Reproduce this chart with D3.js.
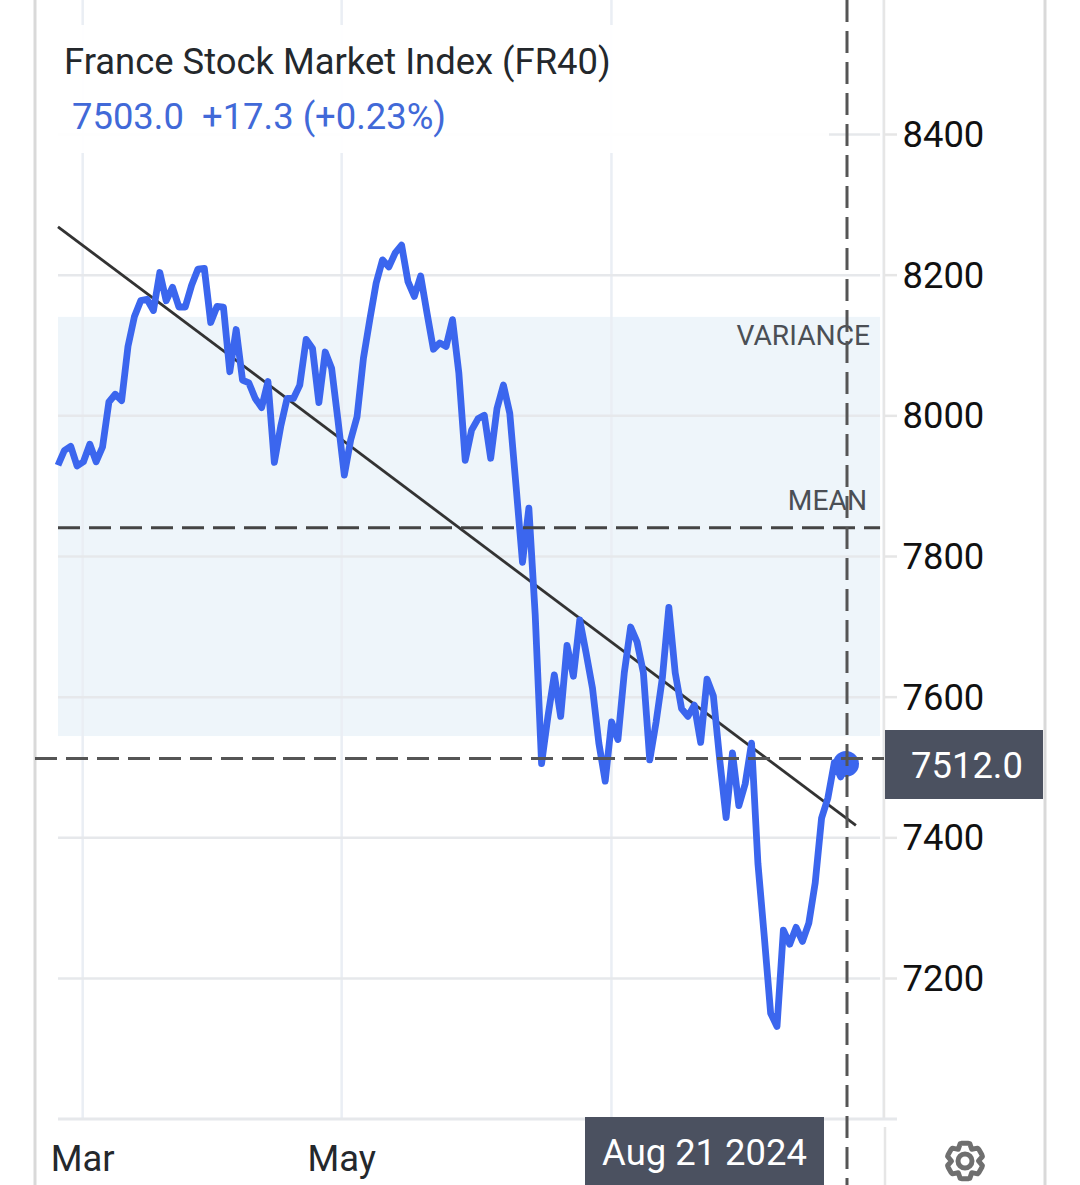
<!doctype html>
<html>
<head>
<meta charset="UTF-8">
<script src="https://d3js.org/d3.v7.min.js"></script>
<style>
  body { margin: 0; background: #fff; }
  svg { display: block; }
  text { font-family: Roboto, sans-serif; }
  .axis .domain { display: none; }
</style>
</head>
<body>
<script>
// closing values by trading day
var closes = [7929,7950,7956,7928,7934,7959,7934,7955,8019,8030,8021,8098,8140,8163,8165,8149,8203,8163,8182,8154,
  8154,8185,8208,8209,8132,8155,8154,8062,8122,8050,8046,8024,8011,8048,7933,7984,8024,8024,8043,8108,
  8095,8018,8090,8067,7993,7915,7965,7998,8081,8136,8188,8221,8211,8231,8242,8190,8169,8198,8145,8094,
  8103,8098,8136,8060,7936,7979,7995,8000,7939,8010,8043,8003,7898,7791,7868,7716,7505,7572,7631,7572,
  7673,7629,7709,7662,7612,7534,7480,7564,7539,7634,7699,7678,7634,7510,7564,7628,7727,7634,7583,7572,
  7588,7535,7625,7601,7510,7428,7520,7445,7476,7534,7363,7259,7150,7131,7268,7248,7272,7252,7278,7335,
  7427,7456,7506,7486,7503]

var yTicks = [7200,7400,7600,7800,8000,8200,8400]
var monthTicks = [3.8,44.5,86.9,129.7]        // grid positions in trading days: Mar, May, Jul, Sep
var monthLabels = [3.8,44.5]
var monthNames = ['Mar','May']

var title = 'France Stock Market Index (FR40)'
var lastPrice = '7503.0'
var lastChange = '+17.3 (+0.23%)'
var crossValue = 7512
var crossDay = 124
var crossDate = 'Aug 21 2024'
var meanValue = 7840
var varianceBand = [7544,8140]
var trendDays = [0,125.4]
var trendValues = [8268,7417]
var lastDay = 129.2

var blue = '#3b66ee', dark = '#4b5160', dash = '22 9'
var fontSize = '36.4px'

var width = 1080, height = 1185

var svg = d3.select('body').append('svg')
  .attr('width', width)
  .attr('height', height)

var x = d3.scaleLinear().domain([0,124]).range([58,847])
var y = d3.scaleLinear().domain([7200,8400]).range([978,134])

var plotLeft = x(0), plotRight = x(lastDay), axisX = 884, axisY = 1118

// outer frame
svg.selectAll('.frame')
  .data([35,1045])
  .enter().append('line')
  .attr('x1', d => d).attr('x2', d => d)
  .attr('y1', 0).attr('y2', height)
  .attr('stroke', '#d9d9d9').attr('stroke-width', 3)

// variance band
svg.append('rect')
  .attr('x', plotLeft)
  .attr('width', plotRight - plotLeft)
  .attr('y', y(varianceBand[1]))
  .attr('height', y(varianceBand[0]) - y(varianceBand[1]))
  .attr('fill', '#eef5fa')

// vertical grid
var xGrid = svg.append('g').attr('class', 'axis')
  .attr('transform', 'translate(0,' + axisY + ')')
  .call(d3.axisBottom(x).tickValues(monthTicks).tickSize(-axisY).tickFormat(''))
xGrid.selectAll('line').attr('stroke', '#eaeef4').attr('stroke-width', 2.5)

// horizontal grid
var yGrid = svg.append('g').attr('class', 'axis')
  .attr('transform', 'translate(' + plotRight + ',0)')
  .call(d3.axisRight(y).tickValues(yTicks).tickSize(plotLeft - plotRight).tickFormat(''))
yGrid.selectAll('line').attr('stroke', '#e6e8eb').attr('stroke-width', 2.5)

// axis lines
svg.append('line')
  .attr('x1', axisX).attr('x2', axisX).attr('y1', 0).attr('y2', axisY)
  .attr('stroke', '#e6e6e6').attr('stroke-width', 2.5)
svg.append('line')
  .attr('x1', axisX + 1).attr('x2', axisX + 1).attr('y1', 1127).attr('y2', height)
  .attr('stroke', '#e6e6e6').attr('stroke-width', 2.5)
svg.append('line')
  .attr('x1', plotLeft).attr('x2', 897).attr('y1', axisY + 1).attr('y2', axisY + 1)
  .attr('stroke', '#e6e8eb').attr('stroke-width', 3)

// white panel behind the title
svg.append('rect')
  .attr('x', 45).attr('y', 25).attr('width', 784).attr('height', 128)
  .attr('fill', '#fff').attr('fill-opacity', 0.93)

// y axis labels
var yAxis = svg.append('g').attr('class', 'axis')
  .attr('transform', 'translate(' + axisX + ',0)')
  .call(d3.axisRight(y).tickValues(yTicks).tickSize(13).tickPadding(6).tickFormat(d3.format('d')))
yAxis.selectAll('line').attr('stroke', '#e6e6e6').attr('stroke-width', 2.5)
yAxis.selectAll('text').attr('fill', '#111').attr('dx', -0.5).attr('y', 0.7).style('font-size', fontSize)

// x axis labels
var xAxis = svg.append('g').attr('class', 'axis')
  .attr('transform', 'translate(0,' + axisY + ')')
  .call(d3.axisBottom(x).tickValues(monthLabels).tickSize(0).tickPadding(27)
    .tickFormat((d, i) => monthNames[i]))
xAxis.selectAll('text').attr('fill', '#24282c').style('font-size', fontSize)

// trend line
svg.append('line')
  .attr('x1', x(trendDays[0])).attr('y1', y(trendValues[0]))
  .attr('x2', x(trendDays[1])).attr('y2', y(trendValues[1]))
  .attr('stroke', '#333').attr('stroke-width', 2.8)

// price line
var priceLine = d3.line()
  .x((d, i) => x(i))
  .y(d => y(d))
svg.append('path')
  .datum(closes)
  .attr('d', priceLine)
  .attr('fill', 'none')
  .attr('stroke', blue)
  .attr('stroke-width', 6.8)
  .attr('stroke-linejoin', 'round')

svg.append('circle')
  .attr('cx', x(crossDay) - 1)
  .attr('cy', y(closes[crossDay]) - 1)
  .attr('r', 13)
  .attr('fill', blue)

// mean line
svg.append('line')
  .attr('x1', plotLeft).attr('x2', plotRight)
  .attr('y1', y(meanValue)).attr('y2', y(meanValue))
  .attr('stroke', '#444').attr('stroke-width', 3)
  .attr('stroke-dasharray', dash)

svg.append('text')
  .text('VARIANCE')
  .attr('x', 870).attr('y', y(varianceBand[1]) + 28)
  .attr('text-anchor', 'end')
  .attr('fill', '#4b4f55')
  .style('font-size', '28.2px')
svg.append('text')
  .text('MEAN')
  .attr('x', 867).attr('y', y(meanValue) - 18)
  .attr('text-anchor', 'end')
  .attr('fill', '#4b4f55')
  .style('font-size', '28.2px')

// crosshair
svg.append('line')
  .attr('x1', 35).attr('x2', axisX)
  .attr('y1', y(crossValue)).attr('y2', y(crossValue))
  .attr('stroke', '#555').attr('stroke-width', 3)
  .attr('stroke-dasharray', dash)
svg.append('line')
  .attr('x1', x(crossDay)).attr('x2', x(crossDay))
  .attr('y1', 0).attr('y2', height)
  .attr('stroke', '#555').attr('stroke-width', 3)
  .attr('stroke-dasharray', dash)

// crosshair value label
svg.append('rect')
  .attr('x', 885).attr('y', 730).attr('width', 158).attr('height', 69)
  .attr('fill', dark)
svg.append('text')
  .text(d3.format('.1f')(crossValue))
  .attr('x', 967).attr('y', 778)
  .attr('text-anchor', 'middle')
  .attr('fill', '#fff')
  .style('font-size', fontSize)

// crosshair date label
svg.append('rect')
  .attr('x', 585).attr('y', 1117).attr('width', 239).attr('height', 68)
  .attr('fill', dark)
svg.append('text')
  .text(crossDate)
  .attr('x', 704.5).attr('y', 1165)
  .attr('text-anchor', 'middle')
  .attr('fill', '#fff')
  .style('font-size', fontSize)

// title
svg.append('text')
  .text(title)
  .attr('x', 64).attr('y', 74)
  .attr('fill', '#24282c')
  .style('font-size', fontSize)
svg.append('text')
  .text(lastPrice)
  .attr('x', 72).attr('y', 129)
  .attr('fill', '#4169d8')
  .style('font-size', fontSize)
svg.append('text')
  .text(lastChange)
  .attr('x', 202).attr('y', 129)
  .attr('fill', '#4169d8')
  .style('font-size', fontSize)

// settings gear
var teeth = 6, gearPts = []
for (var t = 0; t < teeth; t++) {
  var a = t * 2 * Math.PI / teeth
  gearPts.push([a - 0.27, 18], [a - 0.19, 18], [a - 0.15, 18])
  gearPts.push([a + 0.15, 18], [a + 0.27, 18], [a + 0.52, 13.5])
}
var gear = svg.append('g').attr('transform', 'translate(965,1161)')
gear.append('path')
  .attr('d', d3.lineRadial().curve(d3.curveLinearClosed)(gearPts))
  .attr('fill', 'none').attr('stroke', '#6f6f6f').attr('stroke-width', 5)
  .attr('stroke-linejoin', 'round')
gear.append('circle')
  .attr('r', 7)
  .attr('fill', 'none').attr('stroke', '#6f6f6f').attr('stroke-width', 5)
</script>
</body>
</html>
